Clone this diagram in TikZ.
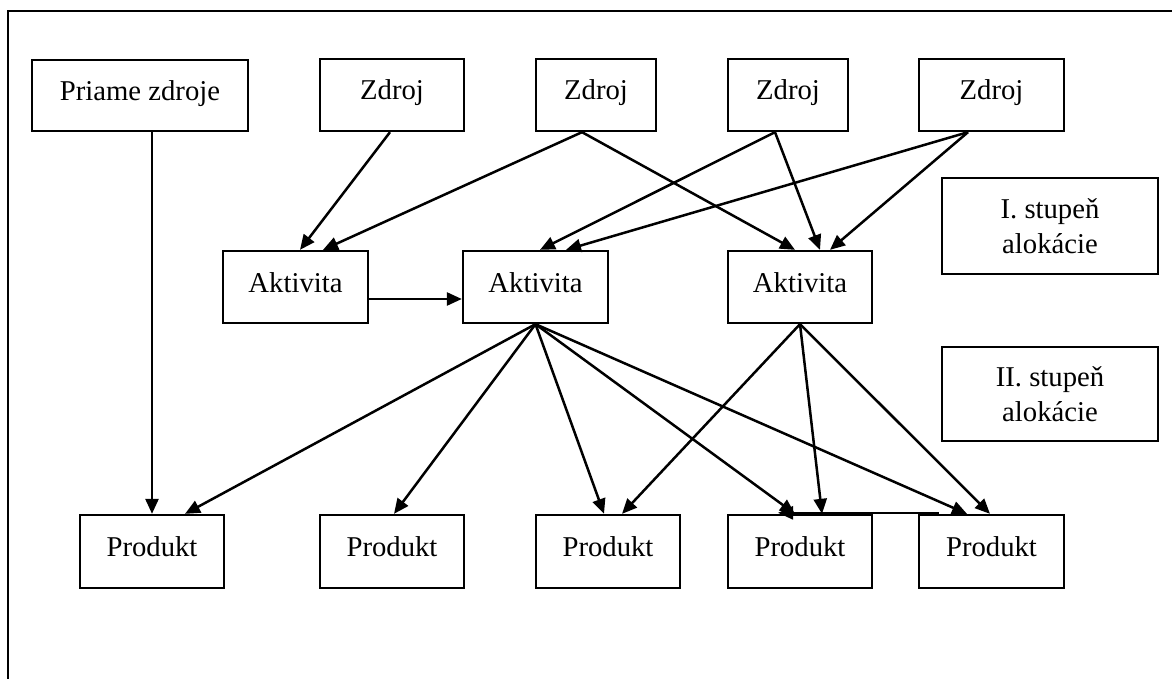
\documentclass[tikz,border=0pt]{standalone}
\usepackage{fontspec}
\setmainfont{Liberation Serif}
\usetikzlibrary{arrows.meta}

\begin{document}
\begin{tikzpicture}[x=1pt,y=-1pt,
  box/.style={draw, line width=2.3pt, rectangle, inner sep=0pt,
    font=\fontsize{28.7}{35}\selectfont},
  oneline/.style={text height=19pt, text depth=9pt},
  conn/.style={line width=2.5pt, -{Triangle[length=15pt,width=13pt]}}]
\useasboundingbox (0,0) rectangle (1172,679);

% page frame
\draw[line width=2.3pt] (8,679) -- (8,11) -- (1172,11);

% sources
\node[box, oneline, minimum width=216pt, minimum height=71pt] (prim) at (140,95.5) {Priame zdroje};
\node[box, oneline, minimum width=144pt, minimum height=72pt] (z1) at (392,95) {Zdroj};
\node[box, oneline, minimum width=120pt, minimum height=72pt] (z2) at (596,95) {Zdroj};
\node[box, oneline, minimum width=120pt, minimum height=72pt] (z3) at (788,95) {Zdroj};
\node[box, oneline, minimum width=145pt, minimum height=72pt] (z4) at (991.5,95) {Zdroj};

% activities
\node[box, oneline, minimum width=145pt, minimum height=72pt] (a1) at (295.5,287) {Aktivita};
\node[box, oneline, minimum width=145pt, minimum height=72pt] (a2) at (535.5,287) {Aktivita};
\node[box, oneline, minimum width=144pt, minimum height=72pt] (a3) at (800,287) {Aktivita};

% allocation stages
\node[box, align=center, minimum width=216pt, minimum height=96pt] (s1) at (1050,226) {I. stupeň\\alokácie};
\node[box, align=center, minimum width=216pt, minimum height=94pt] (s2) at (1050,394) {II. stupeň\\alokácie};

% products
\node[box, oneline, minimum width=144pt, minimum height=73pt] (p1) at (152,551.5) {Produkt};
\node[box, oneline, minimum width=144pt, minimum height=73pt] (p2) at (392,551.5) {Produkt};
\node[box, oneline, minimum width=144pt, minimum height=73pt] (p3) at (608,551.5) {Produkt};
\node[box, oneline, minimum width=144pt, minimum height=73pt] (p4) at (800,551.5) {Produkt};
\node[box, oneline, minimum width=145pt, minimum height=73pt] (p5) at (991.5,551.5) {Produkt};

% direct sources straight to a product
\draw[conn] ([xshift=12pt]prim.south) -- (p1.north);

% first allocation stage: sources to activities
\draw[conn] ([xshift=-2pt]z1.south) -- ([xshift=4.5pt]a1.north);
\draw[conn] ([xshift=-14pt]z2.south) -- ([xshift=27.5pt]a1.north);
\draw[conn] ([xshift=-14pt]z2.south) -- ([xshift=-5pt]a3.north);
\draw[conn] ([xshift=-13pt]z3.south) -- ([xshift=4.5pt]a2.north);
\draw[conn] ([xshift=-13pt]z3.south) -- ([xshift=20pt]a3.north);
\draw[conn] ([xshift=-23.5pt]z4.south) -- ([xshift=30.5pt]a2.north);
\draw[conn] ([xshift=-23.5pt]z4.south) -- ([xshift=30pt]a3.north);
\draw[conn] ([yshift=-12pt]a1.east) -- ([yshift=-12pt]a2.west);

% second allocation stage: activities to products
\draw[conn] (a2.south) -- ([xshift=33pt]p1.north);
\draw[conn] (a2.south) -- ([xshift=2pt]p2.north);
\draw[conn] (a2.south) -- ([xshift=-4pt]p3.north);
\draw[conn] (a2.south) -- ([xshift=-5pt]p4.north);
\draw[conn] (a2.south) -- ([xshift=-24.5pt]p5.north);
\draw[conn] (a3.south) -- ([xshift=14pt]p3.north);
\draw[conn] (a3.south) -- ([xshift=22pt]p4.north);
\draw[conn] (a3.south) -- ([xshift=-1.5pt]p5.north);
\draw[conn] ([xshift=21pt,yshift=1pt]p5.north west) -- ([xshift=-22pt,yshift=1pt]p4.north);
\end{tikzpicture}
\end{document}
